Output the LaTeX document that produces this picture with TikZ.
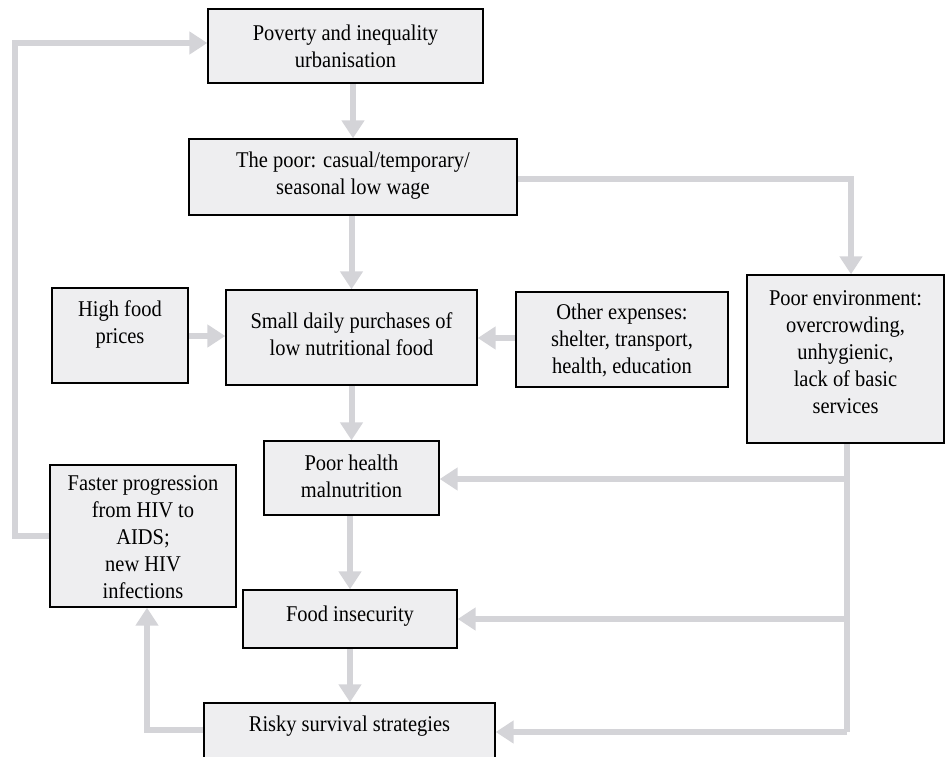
\documentclass[tikz,border=0pt]{standalone}
\usepackage{fontspec}
\setmainfont{Liberation Serif}[FakeStretch=0.91]
\usetikzlibrary{arrows.meta,backgrounds}
\definecolor{boxfill}{HTML}{EEEEF0}
\definecolor{linegray}{HTML}{D4D4D8}
\begin{document}
\begin{tikzpicture}[x=1pt,y=-1pt,
  box/.style={draw=black, line width=1.3pt, fill=boxfill, inner sep=0pt},
  txt/.style={align=center, font=\fontsize{22.5}{27}\selectfont, inner sep=0pt},
  conn/.style={draw=linegray, line width=6pt, line join=miter},
  arr/.style={conn, -{Triangle[width=22pt,length=18pt]}}]
\clip (0,0) rectangle (945,757);
% boxes
\node[box, minimum width=275pt, minimum height=74pt] (pov) at (345.5,46) {};
\node[box, minimum width=328pt, minimum height=76pt] (poor) at (353,177) {};
\node[box, minimum width=136pt, minimum height=95pt] (high) at (120,335.5) {};
\node[box, minimum width=251pt, minimum height=95pt] (small) at (351.5,337.5) {};
\node[box, minimum width=212pt, minimum height=95pt] (other) at (622,339.5) {};
\node[box, minimum width=197pt, minimum height=168pt] (env) at (845.5,359) {};
\node[box, minimum width=175pt, minimum height=74pt] (health) at (351.5,478) {};
\node[box, minimum width=186pt, minimum height=142pt] (faster) at (143,536) {};
\node[box, minimum width=214pt, minimum height=58pt] (food) at (350,619) {};
\node[box, minimum width=291pt, minimum height=58pt] (risky) at (349.5,732) {};
% texts
\node[txt] (pov-t) at (345.5,46) {Poverty and inequality\\urbanisation};
\node[txt] (poor-t) at (353,176) {The poor: casual/temporary/\\seasonal low wage};
\node[txt] (high-t) at (120,324) {High food\\prices};
\node[txt] (small-t) at (351.5,334) {Small daily purchases of\\low nutritional food};
\node[txt] (other-t) at (622,340) {Other expenses:\\shelter, transport,\\health, education};
\node[txt] (env-t) at (845.5,352) {Poor environment:\\overcrowding,\\unhygienic,\\lack of basic\\services};
\node[txt] (health-t) at (351.5,476) {Poor health\\malnutrition};
\node[txt] (faster-t) at (143,537) {Faster progression\\from HIV to\\AIDS;\\new HIV\\infections};
\node[txt] (food-t) at (350,616) {Food insecurity};
\node[txt] (risky-t) at (349.5,726) {Risky survival strategies};
% helper coordinates
\coordinate (fbc) at (15,43);
\coordinate (envb) at (847,443);
\coordinate (envend) at (847,732);
\coordinate (envtop) at (851,179);
\coordinate (rk) at (147,730);
\begin{pgfonlayer}{background}
\draw[arr] (faster.west) -- (faster.west -| fbc) -- (fbc) -- (fbc -| pov.west);
\draw[arr] (pov.south -| poor) -- (poor.north);
\draw[arr] (poor.east |- envtop) -- (envtop) -- (envtop |- env.north);
\draw[arr] (poor.south -| small) -- (small.north);
\draw[arr] (high.east |- 0,336) -- (small.west |- 0,336);
\draw[arr] (other.west |- 0,338) -- (small.east |- 0,338);
\draw[arr] (small.south) -- (small.south |- health.north);
\draw[arr] (health.south -| food) -- (food.north);
\draw[arr] (food.south) -- (food.south |- risky.north);
\draw[conn] (envb) -- (envend);
\draw[arr] (envb |- 0,479) -- (health.east |- 0,479);
\draw[arr] (envb |- food.east) -- (food.east);
\draw[arr] (envend) -- (envend -| risky.east);
\draw[arr] (risky.west |- rk) -- (rk) -- (rk |- faster.south);
\end{pgfonlayer}
\end{tikzpicture}
\end{document}
